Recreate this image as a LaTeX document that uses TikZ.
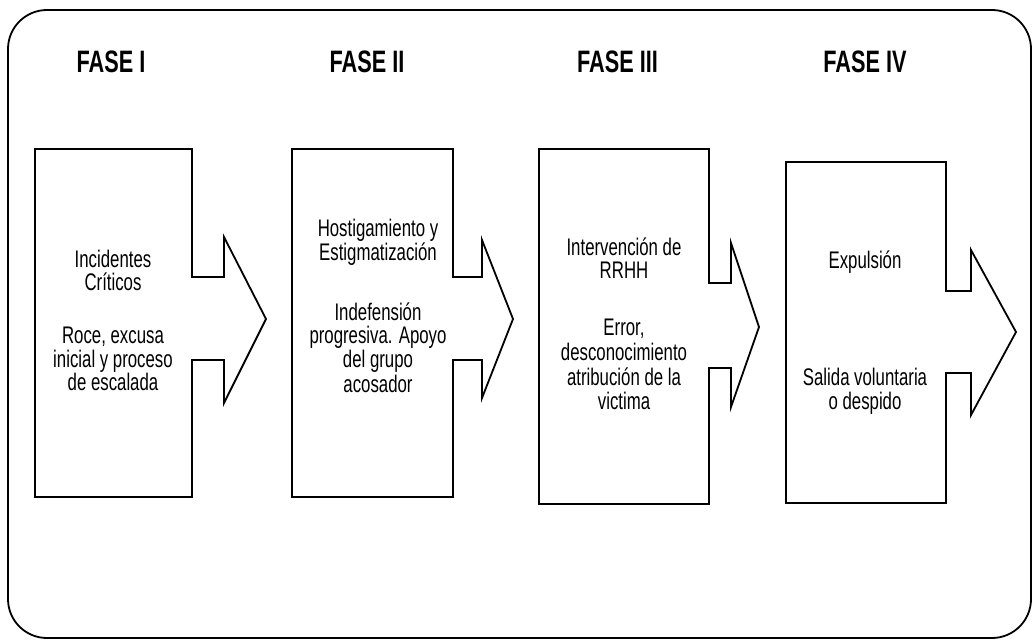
\documentclass[tikz,border=0pt]{standalone}
\usepackage{fontspec}
\setmainfont{Liberation Sans}[FakeStretch=0.70]
\begin{document}
\begin{tikzpicture}[x=1pt,y=-1pt,
  outline/.style={draw=black,line width=1.8pt,line join=miter},
  frame/.style={draw=black,line width=1.8pt,rounded corners=39pt},
  title/.style={anchor=base,inner sep=0pt,font=\fontsize{31}{31}\selectfont\bfseries},
  txt/.style={anchor=base,inner sep=0pt,font=\fontsize{24}{24}\selectfont}]
\useasboundingbox (0,0) rectangle (1032,639);

% outer frame
\draw[frame] (8,10) rectangle (1031,638);

% phase headings
\node[title] (t1) at (111,73)   {FASE I};
\node[title] (t2) at (367,73)   {FASE II};
\node[title] (t3) at (617.5,73) {FASE III};
\node[title] (t4) at (865,73)   {FASE IV};

% phase boxes with their arrow heads
\draw[outline] (35,149) -- (192,149) -- (192,277) -- (224,277) -- (224,237)
  -- (266,319) -- (224,403) -- (224,360) -- (192,360) -- (192,497) -- (35,497) -- cycle;
\draw[outline] (292,149) -- (453,149) -- (453,277) -- (482,277) -- (482,240)
  -- (513,319) -- (482,398) -- (482,360) -- (453,360) -- (453,497) -- (292,497) -- cycle;
\draw[outline] (539,149) -- (709,149) -- (709,283) -- (731,283) -- (731,243)
  -- (759,327) -- (731,407) -- (731,368) -- (709,368) -- (709,504) -- (539,504) -- cycle;
\draw[outline] (786,162) -- (946,162) -- (946,291) -- (971,291) -- (971,250)
  -- (1016,332) -- (971,415) -- (971,373) -- (946,373) -- (946,503) -- (786,503) -- cycle;

% phase I
\node[txt] (a1) at (113,267) {Incidentes};
\node[txt] (a2) at (113,290) {Críticos};
\node[txt] (a3) at (113,343) {Roce, excusa};
\node[txt] (a4) at (113,367) {inicial y proceso};
\node[txt] (a5) at (113,390) {de escalada};

% phase II
\node[txt] (b1) at (378,236) {Hostigamiento y};
\node[txt] (b2) at (378,260) {Estigmatización};
\node[txt] (b3) at (378,320) {Indefensión};
\node[txt] (b4) at (378,343) {progresiva. Apoyo};
\node[txt] (b5) at (378,367) {del grupo};
\node[txt] (b6) at (378,392) {acosador};

% phase III
\node[txt] (c1) at (624,255) {Intervención de};
\node[txt] (c2) at (624,278) {RRHH};
\node[txt] (c3) at (624,335) {Error,};
\node[txt] (c4) at (624,360) {desconocimiento};
\node[txt] (c5) at (624,385) {atribución de la};
\node[txt] (c6) at (624,409) {victima};

% phase IV
\node[txt] (d1) at (865,268) {Expulsión};
\node[txt] (d2) at (865,385) {Salida voluntaria};
\node[txt] (d3) at (865,409) {o despido};
\end{tikzpicture}
\end{document}
